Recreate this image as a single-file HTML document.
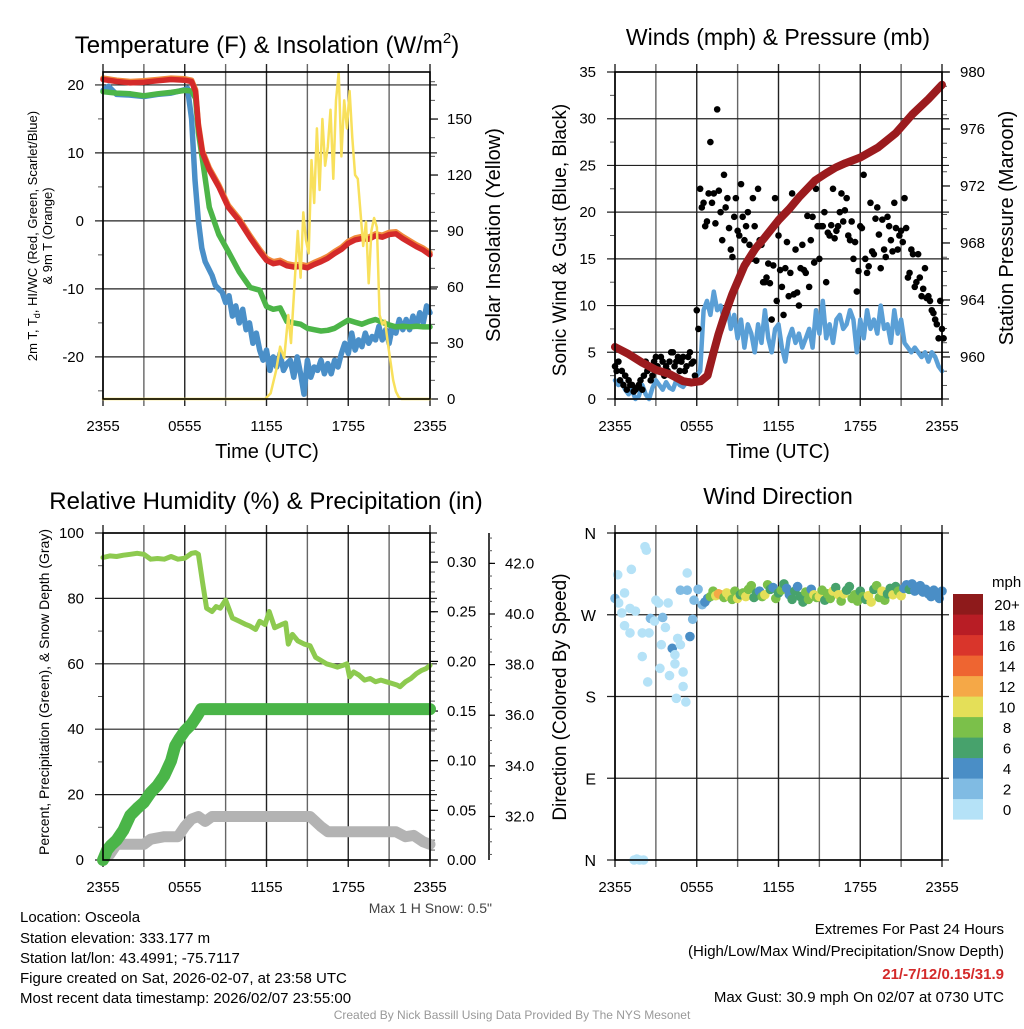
<!DOCTYPE html>
<html><head><meta charset="utf-8">
<style>
html,body{margin:0;padding:0;background:#fff;}
svg text{font-family:"Liberation Sans",Arial,sans-serif;fill:#000;}
</style></head>
<body>
<svg id="chart" xmlns="http://www.w3.org/2000/svg" width="1024" height="1024" viewBox="0 0 1024 1024">
<rect x="0" y="0" width="1024" height="1024" fill="#fff"/>
<text x="267" y="53" font-size="24" text-anchor="middle">Temperature (F) &amp; Insolation (W/m<tspan font-size="15" dy="-10">2</tspan><tspan dy="10">)</tspan></text>
<text x="778" y="45" font-size="23" text-anchor="middle">Winds (mph) &amp; Pressure (mb)</text>
<text x="266" y="509" font-size="24" text-anchor="middle">Relative Humidity (%) &amp; Precipitation (in)</text>
<text x="778" y="504" font-size="23" text-anchor="middle">Wind Direction</text>
<text x="267" y="458" font-size="20" text-anchor="middle">Time (UTC)</text>
<text x="778" y="458" font-size="20" text-anchor="middle">Time (UTC)</text>
<text transform="translate(37,236) rotate(-90)" font-size="13" text-anchor="middle">2m T, T<tspan font-size="9" dy="3">d</tspan><tspan dy="-3">, HI/WC (Red, Green, Scarlet/Blue)</tspan></text>
<text transform="translate(52,236) rotate(-90)" font-size="13" text-anchor="middle">&amp; 9m T (Orange)</text>
<text transform="translate(500,235) rotate(-90)" font-size="20" text-anchor="middle">Solar Insolation (Yellow)</text>
<text transform="translate(566,240) rotate(-90)" font-size="19" text-anchor="middle">Sonic Wind &amp; Gust (Blue, Black)</text>
<text transform="translate(1013,228) rotate(-90)" font-size="20" text-anchor="middle">Station Pressure (Maroon)</text>
<text transform="translate(49,692) rotate(-90)" font-size="14" text-anchor="middle">Percent, Precipitation (Green), &amp; Snow Depth (Gray)</text>
<text transform="translate(566,697) rotate(-90)" font-size="19" text-anchor="middle">Direction (Colored By Speed)</text>
<text x="492" y="913" font-size="14" text-anchor="end" style="fill:#444">Max 1 H Snow: 0.5"</text>
<g>
<text x="20" y="922" font-size="15">Location: Osceola</text>
<text x="20" y="943" font-size="15">Station elevation: 333.177 m</text>
<text x="20" y="963" font-size="15">Station lat/lon: 43.4991; -75.7117</text>
<text x="20" y="983" font-size="15">Figure created on Sat, 2026-02-07, at 23:58 UTC</text>
<text x="20" y="1003" font-size="15">Most recent data timestamp: 2026/02/07 23:55:00</text>
</g>
<g>
<text x="1004" y="934" font-size="15" text-anchor="end">Extremes For Past 24 Hours</text>
<text x="1004" y="956" font-size="15" text-anchor="end">(High/Low/Max Wind/Precipitation/Snow Depth)</text>
<text x="1004" y="979" font-size="15" font-weight="bold" text-anchor="end" style="fill:#d42a2a">21/-7/12/0.15/31.9</text>
<text x="1004" y="1002" font-size="15" text-anchor="end">Max Gust: 30.9 mph On 02/07 at 0730 UTC</text>
</g>
<text x="512" y="1019" font-size="12" text-anchor="middle" style="fill:#999">Created By Nick Bassill Using Data Provided By The NYS Mesonet</text>
</svg>
<script>
// ---------- data ----------
const xTickLabels = ['2355','0555','1155','1755','2355'];
const tempTicks = [20,10,0,-10,-20];
const solarTicks = [0,30,60,90,120,150];
const windTicks = [0,5,10,15,20,25,30,35];
const pressTicks = [960,964,968,972,976,980];
const rhTicks = [0,20,40,60,80,100];
const precipTicks = ['0.00','0.05','0.10','0.15','0.20','0.25','0.30'];
const snowTicks = ['32.0','34.0','36.0','38.0','40.0','42.0'];
const dirLabels = ['N','E','S','W','N'];
const speedLabels = ['0','2','4','6','8','10','12','14','16','18','20+'];
const speedColors = ['#b5e2f7','#80bbe3','#4a8ec6','#47a26c','#7bc04a','#e4df58','#f5a847','#ee6531','#d9352b','#b81d25','#8e1a1b'];

const redTimes = [0,1,2,3,4,5,6,6.5,6.8,7.0,7.3,7.8,8.5,9.2,10,10.8,11.5,12,12.5,13,13.5,14,14.5,15,15.5,16,16.5,17,17.5,18,18.5,19,19.5,20,20.5,21,21.5,22,22.5,23,23.5,24];
const redVals = [20.8,20.5,20.3,20.4,20.6,20.8,20.7,20.5,19,14,10,7.5,5,2,0,-2.5,-4.5,-5.8,-6.3,-6.1,-6.6,-6.8,-6.7,-6.9,-6.4,-6,-5.5,-4.8,-4.2,-3.3,-2.8,-2.6,-2.7,-2.2,-2.4,-2.0,-1.9,-2.6,-3.2,-3.8,-4.3,-5.0];
const orangeVals = [21.0,20.7,20.5,20.6,20.8,21.0,20.9,20.7,19.3,14.3,10.3,7.8,5.3,2.3,0.3,-2.2,-4.2,-5.5,-6.0,-5.8,-6.3,-6.5,-6.4,-6.6,-6.1,-5.7,-5.2,-4.5,-3.9,-3.0,-2.5,-2.3,-2.4,-1.9,-2.1,-1.7,-1.6,-2.3,-2.9,-3.5,-4.0,-4.7];
const greenVals = [19,18.8,18.7,18.4,18.7,18.9,19.2,19.1,18,13,9,2,-2,-4.5,-7.5,-9.8,-10.2,-12.6,-13,-12.8,-14.8,-15,-15.2,-15.8,-16,-16.2,-16.1,-15.8,-15.2,-14.6,-14.9,-15.2,-14.8,-14.5,-14.9,-15.3,-15.6,-15.5,-15.6,-15.5,-15.6,-15.6];
const dewTimes = [0,0.4,1,2,3,4,5,6,6.2,6.5,6.75,7,7.25,7.5,7.75,8,8.25,8.5,8.75,9,9.25,9.5,9.75,10,10.25,10.5,10.75,11,11.25,11.5,11.75,12,12.25,12.5,12.75,13,13.25,13.5,13.75,14,14.25,14.5,14.75,15,15.25,15.5,15.75,16,16.25,16.5,16.75,17,17.25,17.5,17.75,18,18.25,18.5,18.75,19,19.25,19.5,19.75,20,20.25,20.5,20.75,21,21.25,21.5,21.75,22,22.25,22.5,22.75,23,23.25,23.5,23.75,24];
const dewVals = [19.2,19.8,18.6,18.5,18.3,18.6,18.8,19.3,19.5,15,6,0,-4,-6,-7,-8,-9.5,-10,-10.5,-12,-11,-14,-12.5,-15,-13,-16,-15,-18,-16.5,-19,-20.5,-19,-22,-20,-21.5,-19.5,-22,-21,-20.5,-23,-20,-22.5,-25.5,-20.5,-23,-21.5,-22,-20.5,-22.5,-21,-22.5,-20.5,-21.5,-19.5,-18,-19.5,-16.5,-19,-17.5,-18.5,-16.5,-18,-17,-17.5,-15.5,-17.5,-16,-18,-15.5,-16.5,-14.5,-16,-14.5,-16,-14,-15.5,-13.5,-15,-12.5,-13.5];
const solarTimes = [0,11.9,12.3,12.7,13.0,13.3,13.6,13.8,14.0,14.3,14.5,14.7,14.9,15.1,15.3,15.5,15.7,15.9,16.1,16.3,16.5,16.7,16.9,17.1,17.3,17.5,17.7,17.9,18.1,18.3,18.5,18.7,18.9,19.1,19.3,19.5,19.7,19.9,20.1,20.3,20.5,20.7,20.9,21.1,21.3,21.5,21.7,21.9,24];
const solarVals = [0,0,3,15,28,22,45,30,55,90,65,100,85,78,128,105,145,112,150,125,135,155,118,160,175,130,160,145,165,140,120,118,100,82,95,62,90,97,92,45,40,42,30,20,10,4,1,0,0];

const pressTimes = [0,1,2,3,4,5,5.6,6.3,6.8,7.2,7.6,8.0,8.6,9.5,10.3,11,12,12.8,13.5,14.2,14.7,15.5,16.2,16.9,18,19.3,20.6,21.8,23,24];
const pressVals = [960.7,960.2,959.6,959.1,958.8,958.3,958.2,958.3,958.7,960.2,961.6,962.8,964.4,966.4,967.6,968.4,969.6,970.4,971.2,971.9,972.4,972.9,973.3,973.6,974.0,974.7,975.7,977.0,978.1,979.1];
const windTimes = Array.from({length:97},(_,i)=>i*0.25);
const windVals = [2,1.5,1.8,1, 0.5,1,0,0.3, 1.5,0.5,0,1.2, 2,1.5,1,1.8, 1.2,1,2,1.5, 1.3,1.8,2,1.7, 2.5,3,9.5,10.5, 9,11.5,9.5,10, 8.5,10,7.5,9, 6.5,8.5,5.5,8, 7,5,8,6, 9.5,6.5,5,7.5, 8,5.5,4,6.5, 7.5,6,7,5.5, 6.5,7.5,5.5,9.5, 7,10.5,6.5,8, 6,8.5,9,7.5, 8,9.5,8.5,5, 8.5,6.5,9.5,7.5, 8.5,7,10,7.5, 8,6,9.5,7, 8.5,6,5.5,5, 5.5,5,4.5,5, 4,5,4.5,3.5, 3];
const gustVals = [3.5,4,3,2.5, 2,1.5,1,1.5, 1,4,3.5,2.5, 4.5,3,4,3.5, 4,5,4,3, 4.5,3.5,5,4, 9.5,22.5,21,19, 27.5,22,31,20, 24,21.5,16,19.5, 18,23,17,20, 15,18.5,22.5,16.5, 12.5,14.5,8.5,21.5, 17.5,12,14,11, 22,16,10,16.5, 13.5,12,19.5,22.5, 15,18.5,12.5,17.5, 22.5,18,20,19, 21.5,17,15,11.5, 18.5,24,13.5,21, 15.5,20.5,14,16, 19.5,17,21,16, 18,21.5,13,16, 12,15.5,11,14, 11,9.5,8.5,6.5, 7.5];
const gustVals2 = [3,2,1.5,1, 1.5,0.8,1.2,2, 2.5,3,2,4, 3.5,4.5,2.5,3, 5,3.5,4.5,4, 3,4.5,3.8,2.5, 7.5,20.5,18.5,22, 21,18.8,22.3,17, 20.5,18.3,15.2,21.5, 17.5,19.5,18.5,16.5, 21.5,14.8,17,12.5, 13,12.4,14.3,10.5, 13.8,9,16.8,13.5, 11.2,11.4,14,13.8, 19.6,17,14.6,18.5, 18.5,20,17.8,18.6, 17.2,18.5,22,20.2, 17.5,19,16.8,13.7, 18.3,15,14.2,15.8, 19.3,17.6,19.2,15.2, 18.5,15.8,18.3,17.5, 16.8,18.3,13.5,15.5, 12.5,13,11.8,10.8, 10.5,9.2,8,10.5, 6.5];

const rhTimes = [0,0.5,1,1.5,2,2.5,3,3.5,4,4.5,5,5.5,6,6.5,6.8,7.0,7.3,7.6,8.0,8.3,8.6,9.0,9.5,10,10.5,10.8,11.2,11.5,11.9,12.2,12.6,13.1,13.4,13.6,13.9,14.3,14.8,15.2,15.6,16.0,16.4,16.8,17.2,17.6,17.9,18.1,18.4,18.8,19.2,19.6,20.0,20.4,20.8,21.2,21.6,21.8,22.2,22.6,23.0,23.4,23.7,24];
const rhVals = [92.5,93,92.8,93.2,93.5,93.8,93.5,92,92.2,92,92.8,92,92.3,93.8,94,93.5,85,77,76,77.5,77,79.5,74,73,72,71.5,70.5,73,72,76,71,72,72.5,66,69,67,66,65.5,62,61,60,59.5,59,59.5,60,56,57.5,56.5,55,55.5,54.5,55,54.5,54,53.5,53,54.5,55.5,57,58,58.5,59.5];
const precipTimes = [0,0.3,0.6,1.0,1.5,2.0,2.5,3.0,3.5,4.0,4.5,5.0,5.3,5.6,6.0,6.5,6.9,7.2,24];
const precipVals = [0,0.01,0.015,0.02,0.03,0.045,0.052,0.058,0.068,0.075,0.085,0.1,0.115,0.122,0.13,0.137,0.145,0.152,0.152];
const snowTimes = [0,0.5,1,2,3,3.5,4.5,5.5,6,6.5,7,7.5,8,15.2,16,16.5,21.5,22.2,22.8,23.5,24];
const snowVals = [30.3,30.5,30.9,30.9,30.9,31.1,31.2,31.2,31.6,31.9,32.0,31.8,32.0,32.0,31.6,31.4,31.4,31.2,31.25,31.0,30.9];

const dirTimes = [0,0.27,0.2,0.7,0.5,1.1,0.7,1.1,1.2,1.5,2,2,2.4,2.2,2.3,2.6,2.5,2.9,3.0,3.2,3.4,3.3,3.5,3.7,3.9,4.0,4.2,4.4,4.4,4.6,4.5,4.8,5.0,5.0,5.2,5.3,4.8,5.5,5.3,5.7,5.8,6.1,6.4,1.4,1.6,1.8,2.1,
 6.6,6.8,7.0,7.2,7.4,7.6,7.8,8.0,8.2,8.4,8.6,8.8,9.0,9.2,9.4,9.6,9.8,10.0,10.2,10.4,10.6,10.8,11.0,11.2,11.4,11.6,11.8,12.0,12.2,12.4,12.6,12.8,13.0,13.2,13.4,13.6,13.8,14.0,14.2,14.4,14.6,14.8,15.0,15.2,15.4,15.6,15.8,16.0,16.2,16.4,16.6,16.8,17.0,17.2,17.4,17.6,17.8,18.0,18.2,18.4,18.6,18.8,19.0,19.2,19.4,19.6,19.8,20.0,20.2,20.4,20.6,20.8,21.0,21.2,21.4,21.6,21.8,22.0,22.2,22.4,22.6,22.8,23.0,23.2,23.4,23.6,23.8,24.0];
const dirVals = [288,283,314,294,272,277,258,250,320,274,250,224,196,345,341,266,250,263,286,283,237,211,267,256,283,203,233,226,216,244,178,237,191,207,174,316,297,246,297,265,286,298,281,0,1,0,0,
 284,288,290,296,291,293,292,289,294,290,287,296,288,292,294,290,298,302,289,294,296,290,292,303,298,300,288,294,297,304,299,292,287,296,301,290,284,295,287,298,292,289,290,297,286,293,288,296,300,292,285,293,297,301,288,292,285,296,290,287,291,284,298,302,289,296,286,293,299,292,301,296,291,299,303,298,304,296,300,302,295,298,293,290,297,294,288,296];
const dirSpeeds = [3,1,1,1,1,1,1,1,1,1,1,1,1,1,1,2.5,1,1,1,1,1,1,2.5,1,1,1,4,1,1,1,1,1,1,1,1,1,2.5,4,2.5,2.5,2.5,2.5,3,1,1,1,1,
 4.5,5,9,8,10.5,12.5,12.5,8.5,10.5,10.5,8,8.5,10,7,8,10.5,8.5,8,6.5,7,5,8.5,10,8.5,6,5,8,6.5,8.5,6,5,4.5,6.5,6,5,7,6.5,8,8.5,5,10,9,10,8.5,7,9,8.5,10.5,6,10,8,10.5,7,7,8,9,8.5,6,8,7,10,10.5,6.5,8,8,10,8.5,6.5,7.5,10.5,7,8.5,10,4.5,5,6.5,5,5.5,5,4.5,5.5,4,4.5,5,4.5,4.5,5,4];

// ---------- helpers ----------
const NS = 'http://www.w3.org/2000/svg';
const svg = document.getElementById('chart');
function mk(tag, attrs, parent){ const e=document.createElementNS(NS,tag); for(const k in attrs) e.setAttribute(k,attrs[k]); (parent||svg).appendChild(e); return e; }
const P1={x0:103,x1:430,y0:72,y1:399}, P2={x0:615,x1:942,y0:72,y1:399}, P3={x0:103,x1:430,y0:533,y1:860}, P4={x0:615,x1:942,y0:533,y1:860};
function xs(p,h){ return p.x0 + h/24*(p.x1-p.x0); }
function linY(p,lo,hi){ return v => p.y1 - (v-lo)/(hi-lo)*(p.y1-p.y0); }
const yTemp = linY(P1,-26.2,21.9);
const ySolar = linY(P1,0,175.2);
const yWind = linY(P2,0,35);
const yPress = linY(P2,957.05,980);
const yRH = linY(P3,0,100);
const yPrecip = linY(P3,0,0.3293);
const ySnow = linY(P3,30.28,43.2);
const yDir = linY(P4,0,360);

function panelGrid(p, prefix){
  const g = mk('g',{});
  
  
  for(let h=0; h<=24; h+=3){
    const x = xs(p,h);
    const l = mk('line',{x1:x,y1:p.y0-8,x2:x,y2:p.y1+7,stroke:(h%6===0?'#222':'#666'),'stroke-width':1.4},g);
    
    
  }
  xTickLabels.forEach((lab,i)=>{
    const t = mk('text',{x:xs(p,i*6),y:p.y1+32,'font-size':15,'text-anchor':'middle'});
    t.textContent = lab;
    
    
  });
}
function hGrid(p, ys, prefix){
  ys.forEach(y=>{
    const l = mk('line',{x1:p.x0-8,y1:y,x2:p.x1+7,y2:y,stroke:'#222','stroke-width':1.2});
    
    
  });
}
function minorTicks(x, ys, dir, len, prefix){
  ys.forEach(y=>{
    const l = mk('line',{x1:x,y1:y,x2:x+dir*len,y2:y,stroke:'#555','stroke-width':1});
    
    
  });
}
function frame(p, prefix){
  const r = mk('rect',{x:p.x0,y:p.y0,width:p.x1-p.x0,height:p.y1-p.y0,fill:'none',stroke:'#000','stroke-width':1.6});
  
  
}
function label(x,y,txt,anchor,name,size){
  const t = mk('text',{x:x,y:y,'font-size':size||15,'text-anchor':anchor});
  t.textContent = txt;
  
  
  return t;
}
function series(p, times, vals, yf, color, w, name){
  const n = Math.min(times.length, vals.length);
  let d='';
  for(let i=0;i<n;i++) d += (i?'L':'M') + xs(p,times[i]).toFixed(1) + ' ' + yf(vals[i]).toFixed(1);
  const path = mk('path',{d:d,fill:'none',stroke:color,'stroke-width':w,'stroke-linejoin':'round','stroke-linecap':'round'});
  
  
}
function rng(a,b,s){ const r=[]; for(let v=a; v<=b+1e-9; v+=s) r.push(v); return r; }

// ---------- panel 1 ----------
panelGrid(P1,'temp');
hGrid(P1, tempTicks.map(yTemp), 'temp');
minorTicks(P1.x0, rng(-25,20,5).filter(v=>v%10!==0).map(yTemp), -1, 5, 'temp');
minorTicks(P1.x1, rng(0,170,10).map(ySolar), 1, 5, 'solar');
solarTicks.forEach(v=>{ const l=mk('line',{x1:P1.x1,y1:ySolar(v),x2:P1.x1+8,y2:ySolar(v),stroke:'#000','stroke-width':1.2});   });
tempTicks.forEach(v=>label(84,yTemp(v)+5,String(v),'end','temp-y-tick-label'));
solarTicks.forEach(v=>label(447,ySolar(v)+5,String(v),'start','solar-y-tick-label'));
series(P1, dewTimes, dewVals, yTemp, '#4a8fc8', 5.5, 'dewpoint-line');
series(P1, redTimes, greenVals, yTemp, '#4cb548', 5.5, 'windchill-line');
series(P1, redTimes, orangeVals, yTemp, '#f08a3c', 5.5, 'temp-9m-line');
series(P1, redTimes, redVals, yTemp, '#d42a2a', 5.5, 'temp-2m-line');
series(P1, solarTimes, solarVals, ySolar, '#f8e05c', 2.5, 'solar-insolation-line');
frame(P1,'temp');

// ---------- panel 2 ----------
panelGrid(P2,'wind');
hGrid(P2, windTicks.map(yWind), 'wind');
minorTicks(P2.x0, rng(2.5,32.5,5).map(yWind), -1, 5, 'wind');
minorTicks(P2.x1, rng(958,979,1).map(yPress), 1, 5, 'pressure');
pressTicks.forEach(v=>{ const l=mk('line',{x1:P2.x1,y1:yPress(v),x2:P2.x1+8,y2:yPress(v),stroke:'#000','stroke-width':1.2});   });
windTicks.forEach(v=>label(596,yWind(v)+5,String(v),'end','wind-y-tick-label'));
pressTicks.forEach(v=>label(960,yPress(v)+5,String(v),'start','pressure-y-tick-label'));
series(P2, windTimes, windVals, yWind, '#5a9fd6', 4.5, 'sonic-wind-line');
[gustVals, gustVals2].forEach(arr=>{
  arr.forEach((v,i)=>{
    const c = mk('circle',{cx:xs(P2,windTimes[i]+(arr===gustVals2?0.12:0)),cy:yWind(v),r:3.3,fill:'#000'});
    
    
  });
});
series(P2, pressTimes, pressVals, yPress, '#9b1b1e', 8, 'station-pressure-line');
frame(P2,'wind');

// ---------- panel 3 ----------
panelGrid(P3,'humidity');
hGrid(P3, rhTicks.map(yRH), 'humidity');
minorTicks(P3.x0, rng(10,90,20).map(yRH), -1, 5, 'humidity');
minorTicks(P3.x1, rng(0,0.32,0.01).map(yPrecip), 1, 5, 'precip');
precipTicks.forEach(v=>{ const y=yPrecip(+v); const l=mk('line',{x1:P3.x1,y1:y,x2:P3.x1+8,y2:y,stroke:'#000','stroke-width':1.2});   });
rhTicks.forEach(v=>label(84,yRH(v)+5,String(v),'end','humidity-y-tick-label'));
precipTicks.forEach(v=>label(447,yPrecip(+v)+5,v,'start','precip-y-tick-label'));
{ const l=mk('line',{x1:489,y1:P3.y0,x2:489,y2:P3.y1,stroke:'#000','stroke-width':1.5});   }
minorTicks(489, rng(30.5,43,0.5).map(ySnow), 1, 3, 'snow');
snowTicks.forEach(v=>{ const y=ySnow(+v); const l=mk('line',{x1:489,y1:y,x2:495,y2:y,stroke:'#000','stroke-width':1.2});   label(505,y+5,v,'start','snow-y-tick-label'); });
series(P3, snowTimes, snowVals, ySnow, '#b3b3b3', 11, 'snow-depth-line');
series(P3, precipTimes, precipVals, yPrecip, '#4ab548', 12, 'precipitation-line');
series(P3, rhTimes, rhVals, yRH, '#8dca4f', 5, 'relative-humidity-line');
frame(P3,'humidity');

// ---------- panel 4 ----------
panelGrid(P4,'direction');
hGrid(P4, [0,90,180,270,360].map(yDir), 'direction');
dirLabels.forEach((lab,i)=>label(596,yDir(i*90)+6,lab,'end','direction-y-tick-label',16));
{
  const n = Math.min(dirTimes.length, dirVals.length, dirSpeeds.length);
  for(let i=0;i<n;i++){
    const idx = Math.min(10, Math.floor(dirSpeeds[i]/2));
    const c = mk('circle',{cx:xs(P4,dirTimes[i]),cy:yDir(dirVals[i]),r:4.8,fill:speedColors[idx]});
    
    
  }
}
frame(P4,'direction');
label(992,587,'mph','start','colorbar-title',15);
speedLabels.forEach((lab,i)=>{
  const top = 594 + (10-i)*20.5;
  const r = mk('rect',{x:953,y:top,width:30,height:20.6,fill:speedColors[i]});
  
  
  label(1007,top+16,lab,'middle','colorbar-label',15);
});
</script>
</body></html>
